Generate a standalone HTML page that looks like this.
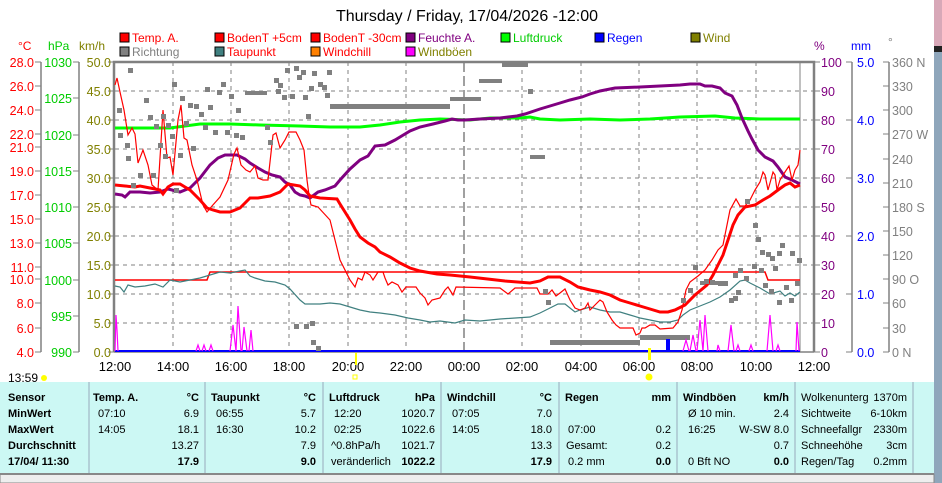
<!DOCTYPE html>
<html><head><meta charset="utf-8"><style>
body{margin:0;width:942px;height:483px;overflow:hidden;background:#fff;font-family:"Liberation Sans Narrow","Liberation Sans",sans-serif;}
svg{position:absolute;left:0;top:0}
</style></head><body>
<svg width="942" height="483" viewBox="0 0 942 483" font-family="Liberation Sans Narrow, Liberation Sans, sans-serif">
<rect x="934" y="0" width="8" height="46" fill="#d8a8b8"/>
<rect x="934" y="46" width="8" height="6" fill="#222"/>
<rect x="934" y="52" width="8" height="431" fill="#8fa6bb"/>
<text x="467" y="21" font-size="16" text-anchor="middle" fill="#000">Thursday / Friday, 17/04/2026  -12:00</text>
<!-- legend -->
<g font-size="12">
<rect x="120" y="33" width="9" height="9" fill="#f00" stroke="#000"/><text x="132" y="42" fill="#f00">Temp. A.</text>
<rect x="215" y="33" width="9" height="9" fill="#f00" stroke="#000"/><text x="227" y="42" fill="#f00">BodenT +5cm</text>
<rect x="311" y="33" width="9" height="9" fill="#f00" stroke="#000"/><text x="323" y="42" fill="#f00">BodenT -30cm</text>
<rect x="406" y="33" width="9" height="9" fill="#800080" stroke="#000"/><text x="418" y="42" fill="#800080">Feuchte A.</text>
<rect x="501" y="33" width="9" height="9" fill="#0f0" stroke="#000"/><text x="513" y="42" fill="#0c0">Luftdruck</text>
<rect x="595" y="33" width="9" height="9" fill="#00f" stroke="#000"/><text x="607" y="42" fill="#00f">Regen</text>
<rect x="691" y="33" width="9" height="9" fill="#808000" stroke="#000"/><text x="703" y="42" fill="#808000">Wind</text>
<rect x="120" y="47" width="9" height="9" fill="#808080" stroke="#000"/><text x="132" y="56" fill="#808080">Richtung</text>
<rect x="215" y="47" width="9" height="9" fill="#408080" stroke="#000"/><text x="227" y="56" fill="#f00">Taupunkt</text>
<rect x="311" y="47" width="9" height="9" fill="#ff8000" stroke="#000"/><text x="323" y="56" fill="#f00">Windchill</text>
<rect x="406" y="47" width="9" height="9" fill="#f0f" stroke="#000"/><text x="418" y="56" fill="#808000">Windböen</text>
<text x="18" y="50" fill="#f00">°C</text><text x="48" y="50" fill="#0c0">hPa</text><text x="79" y="50" fill="#808000">km/h</text>
<text x="814" y="50" fill="#800080">%</text><text x="851" y="50" fill="#00f">mm</text><text x="888" y="46" fill="#808080">°</text>
</g>
<!-- left axes -->
<g stroke="#808080" stroke-width="1.5"><line x1="41" y1="62" x2="41" y2="352"/><line x1="79" y1="62" x2="79" y2="352"/><line x1="852" y1="62" x2="852" y2="352"/><line x1="889" y1="62" x2="889" y2="352"/></g>
<g font-size="12.5" fill="#f00" text-anchor="end">
<text x="34" y="67">28.0</text><text x="34" y="91">26.0</text><text x="34" y="115">24.0</text><text x="34" y="139">22.0</text><text x="34" y="152">21.0</text><text x="34" y="176">19.0</text><text x="34" y="200">17.0</text><text x="34" y="224">15.0</text><text x="34" y="248">13.0</text><text x="34" y="272">11.0</text><text x="34" y="284">10.0</text><text x="34" y="308">8.0</text><text x="34" y="333">6.0</text><text x="34" y="357">4.0</text>
</g>
<g stroke="#808080"><path d="M35 62h6M35 86h6M35 110h6M35 134h6M35 147h6M35 171h6M35 195h6M35 219h6M35 243h6M35 267h6M35 279h6M35 303h6M35 328h6M35 352h6"/>
<path d="M73 62h6M73 98h6M73 135h6M73 171h6M73 207h6M73 243h6M73 280h6M73 316h6M73 352h6"/>
<path d="M108 62h6M108 91h6M108 120h6M108 149h6M108 178h6M108 207h6M108 236h6M108 265h6M108 294h6M108 323h6M108 352h6"/>
<path d="M814 62h6M814 91h6M814 120h6M814 149h6M814 178h6M814 207h6M814 236h6M814 265h6M814 294h6M814 323h6M814 352h6"/>
<path d="M846 62h6M846 120h6M846 178h6M846 236h6M846 294h6M846 352h6"/>
<path d="M883 62h6M883 86h6M883 110h6M883 134h6M883 159h6M883 183h6M883 207h6M883 231h6M883 255h6M883 279h6M883 303h6M883 328h6M883 352h6"/></g>
<g font-size="12.5" fill="#0c0" text-anchor="end">
<text x="72" y="67">1030</text><text x="72" y="103">1025</text><text x="72" y="140">1020</text><text x="72" y="176">1015</text><text x="72" y="212">1010</text><text x="72" y="248">1005</text><text x="72" y="285">1000</text><text x="72" y="321">995</text><text x="72" y="357">990</text></g>
<g font-size="12.5" fill="#808000" text-anchor="end">
<text x="111" y="67">50.0</text><text x="111" y="96">45.0</text><text x="111" y="125">40.0</text><text x="111" y="154">35.0</text><text x="111" y="183">30.0</text><text x="111" y="212">25.0</text><text x="111" y="241">20.0</text><text x="111" y="270">15.0</text><text x="111" y="299">10.0</text><text x="111" y="328">5.0</text><text x="111" y="357">0.0</text></g>
<g font-size="12.5" fill="#800080">
<text x="821" y="67">100</text><text x="821" y="96">90</text><text x="821" y="125">80</text><text x="821" y="154">70</text><text x="821" y="183">60</text><text x="821" y="212">50</text><text x="821" y="241">40</text><text x="821" y="270">30</text><text x="821" y="299">20</text><text x="821" y="328">10</text><text x="821" y="357">0</text></g>
<g font-size="12.5" fill="#00f">
<text x="857" y="67">5.0</text><text x="857" y="125">4.0</text><text x="857" y="183">3.0</text><text x="857" y="241">2.0</text><text x="857" y="299">1.0</text><text x="857" y="357">0.0</text></g>
<g font-size="12.5" fill="#808080">
<text x="892" y="67">360 N</text><text x="892" y="91">330</text><text x="892" y="115">300</text><text x="892" y="139">270 W</text><text x="892" y="164">240</text><text x="892" y="188">210</text><text x="892" y="212">180 S</text><text x="892" y="236">150</text><text x="892" y="260">120</text><text x="892" y="284">90  O</text><text x="892" y="308">60</text><text x="892" y="333">30</text><text x="892" y="357">0    N</text></g>
<!-- grid -->
<g stroke="#808080" stroke-dasharray="4,4" stroke-width="1">
<path d="M115 91H814M115 120H814M115 149H814M115 178H814M115 207H814M115 236H814M115 265H814M115 294H814M115 323H814"/>
<path d="M173 62V352M231 62V352M289 62V352M348 62V352M406 62V352M522 62V352M581 62V352M639 62V352M697 62V352M756 62V352"/>
</g>
<path d="M464 62V352" stroke="#808080" stroke-dasharray="10,4" stroke-width="1.5"/>
<line x1="800" y1="62" x2="800" y2="352" stroke="#808080"/>
<!-- frame -->
<path d="M114 352V62H814V352" fill="none" stroke="#808080" stroke-width="2.5"/>
<line x1="114" y1="352" x2="814" y2="352" stroke="#808080" stroke-width="1.5"/>
<!-- Richtung -->
<g fill="#808080">
<rect x="330" y="104" width="120" height="5"/><rect x="450" y="97" width="31" height="4"/><rect x="479" y="79" width="23" height="4"/><rect x="502" y="63" width="26" height="4"/><rect x="530" y="155" width="15" height="4"/><rect x="550" y="340" width="90" height="5"/><rect x="640" y="335" width="50" height="5"/><rect x="245" y="91" width="22" height="4"/><rect x="700" y="281" width="22" height="4"/>
</g>
<g fill="#808080" id="dots"></g>
<!-- Luftdruck -->
<polyline fill="none" stroke="#0f0" stroke-width="3" points="115,128 170,128 185,126 200,124 230,124 260,125 300,126 330,127 360,127 380,125 400,122 420,120 440,119 470,120 490,118 520,118 530,117 540,119 560,120 590,119 620,120 650,119 680,117 715,116 735,118 760,119 800,119"/>
<!-- Feuchte -->
<polyline fill="none" stroke="#800080" stroke-width="3" points="115,194 122,195 125,197 130,192 140,192 150,193 160,192 168,189 180,192 190,188 195,183 200,178 210,165 218,158 225,155 237,155 245,159 250,163 258,168 265,172 272,175 280,177 285,182 290,185 295,192 300,195 305,196 310,198 318,192 325,190 335,186 340,180 350,169 360,160 368,156 375,146 385,145 395,140 400,137 410,131 420,127 433,124 445,121 452,119 458,120 465,120 480,119 500,118 517,116 525,114 540,109 550,106 560,103 570,100 582,97 590,94 600,91 615,88 640,87 660,86 680,85 690,84 700,84 705,86 712,86 720,88 725,93 732,96 737,105 742,118 748,131 752,139 758,150 765,157 773,161 778,167 785,177 792,180 800,184"/>
<!-- BodenT -30 -->
<polyline fill="none" stroke="#f00" stroke-width="1.5" points="115,280 207,280 210,272 357,272 360,272 765,272 768,280 800,280"/>
<!-- Taupunkt -->
<polyline fill="none" stroke="#408080" stroke-width="1.2" points="115,286 120,287 124,292 128,285 135,287 145,286 155,284 163,287 170,280 180,282 190,280 200,278 210,275 220,272 230,273 240,271 245,270 250,276 255,278 265,281 275,282 285,285 290,289 300,300 305,304 310,304 320,304 330,303 340,304 350,307 360,310 370,312 380,313 395,315 408,318 420,320 430,322 440,321 455,323 465,320 480,321 500,319 530,317 540,313 550,308 558,304 565,304 570,308 575,312 580,310 590,307 600,310 610,312 620,312 630,315 640,318 650,320 660,322 670,322 678,320 683,315 690,310 700,306 710,302 720,297 730,290 740,281 745,280 750,283 760,288 770,294 780,291 785,296 790,293 795,296 800,292"/>
<!-- BodenT +5 thick -->
<polyline fill="none" stroke="#f00" stroke-width="3" points="115,185 125,186 135,187 140,186 150,188 160,190 163,194 168,187 173,184 180,184 185,187 190,190 200,200 207,208 213,210 220,212 230,212 240,208 245,203 250,198 258,198 270,196 280,192 288,184 300,186 305,190 310,196 320,198 337,199 340,204 345,212 350,220 355,229 360,237 368,243 375,247 380,252 390,257 400,263 410,268 420,271 437,274 450,275 470,277 505,281 530,283 540,281 548,277 560,277 570,282 578,287 590,290 600,292 610,295 620,300 630,303 640,306 650,309 660,312 668,312 675,310 685,305 695,295 707,285 713,275 718,265 723,255 728,240 733,225 738,215 745,207 755,205 763,200 770,196 778,190 785,185 790,183 795,187 800,185"/>
<!-- Temp A thin -->
<polyline fill="none" stroke="#f00" stroke-width="1.2" points="115,85 117,78 120,92 124,110 128,135 132,128 135,134 138,163 143,150 148,165 152,185 158,190 163,110 167,158 170,157 173,175 178,120 181,105 184,138 187,140 192,165 197,180 203,205 207,212 212,206 220,197 228,180 234,154 237,148 241,165 246,170 250,172 255,166 258,178 263,180 268,180 273,135 276,133 280,148 285,140 289,132 296,132 300,140 304,150 307,180 309,195 311,205 318,207 330,220 335,240 340,260 345,270 350,280 355,287 358,278 362,280 365,272 370,275 373,280 378,272 383,272 385,278 388,285 392,282 398,285 402,292 406,287 416,287 420,293 425,298 428,305 432,300 440,298 445,290 448,287 453,295 456,287 500,288 508,294 515,288 537,288 540,294 548,294 552,290 556,296 560,293 565,289 570,300 575,308 580,310 585,308 588,303 590,310 595,305 600,300 603,302 607,312 612,320 616,325 620,328 633,328 636,335 640,333 642,328 645,328 650,325 655,325 660,329 673,328 678,322 682,310 686,290 690,282 698,276 705,270 712,260 718,250 723,245 730,210 736,199 740,206 745,206 750,200 755,190 760,182 763,172 765,175 768,190 770,183 773,172 775,175 777,190 780,180 785,172 789,166 792,180 795,170 798,165 800,150"/>
<!-- rain -->
<line x1="115" y1="351" x2="800" y2="351" stroke="#00f" stroke-width="2"/>
<rect x="666" y="339" width="4" height="12" fill="#00f"/>
<!-- gusts -->
<g fill="none" stroke="#f0f" stroke-width="1.2">
<path d="M115 351L116 315L117 330L118 351"/>
<path d="M196 351L198 345L200 351M202 351L204 345L206 351M209 351L211 345L213 351"/>
<path d="M230 351L233 325L236 351M236 351L238 306L241 351M242 351L244 327L247 351M249 351L251 330L253 351"/>
<path d="M683 351L686 340L689 351M690 351L693 335L696 351M697 351L700 320L703 351M703 351L705 315L708 351M717 351L718 345L720 351M728 351L731 325L734 351M736 351L738 345L740 351M749 351L751 345L753 351M767 351L770 315L773 351M776 351L778 345L780 351M796 351L797 322L799 351"/>
</g>
<!-- time labels -->
<g font-size="13" fill="#000" text-anchor="middle">
<text x="115" y="371">12:00</text><text x="173" y="371">14:00</text><text x="231" y="371">16:00</text><text x="289" y="371">18:00</text><text x="348" y="371">20:00</text><text x="406" y="371">22:00</text><text x="464" y="371">00:00</text><text x="522" y="371">02:00</text><text x="581" y="371">04:00</text><text x="639" y="371">06:00</text><text x="697" y="371">08:00</text><text x="756" y="371">10:00</text><text x="814" y="371">12:00</text>
</g>
<text x="8" y="382" font-size="12">13:59</text>
<circle cx="44" cy="378" r="3" fill="#ff0"/>
<rect x="355" y="353" width="2" height="12" fill="#ff0"/>
<rect x="353" y="375" width="4" height="4" fill="none" stroke="#ff0"/>
<rect x="648" y="348" width="3" height="12" fill="#ff0"/>
<circle cx="649" cy="377" r="3.5" fill="#ff0"/>
<!-- table -->
<rect x="0" y="382" width="934" height="92" fill="#ccf8f4"/>
<g stroke="#9ab" stroke-width="1"><path d="M89 382V474M205 382V474M323 382V474M441 382V474M559 382V474M677 382V474M795 382V474M913 382V474"/></g>
<rect x="0" y="474" width="934" height="9" fill="#eee" stroke="#888"/>
<path d="M0 474H934" stroke="#888" stroke-width="2"/>
<g font-size="11" fill="#000">
<g font-weight="bold"><text x="8" y="401">Sensor</text><text x="8" y="417">MinWert</text><text x="8" y="433">MaxWert</text><text x="8" y="449">Durchschnitt</text><text x="8" y="465">17/04/ 11:30</text>
<text x="93" y="401">Temp. A.</text><text x="211" y="401">Taupunkt</text><text x="329" y="401">Luftdruck</text><text x="447" y="401">Windchill</text><text x="565" y="401">Regen</text><text x="683" y="401">Windböen</text></g>
<g text-anchor="end" font-weight="bold"><text x="199" y="401">°C</text><text x="316" y="401">°C</text><text x="435" y="401">hPa</text><text x="552" y="401">°C</text><text x="671" y="401">mm</text><text x="789" y="401">km/h</text>
<text x="199" y="465">17.9</text><text x="316" y="465">9.0</text><text x="435" y="465">1022.2</text><text x="552" y="465">17.9</text><text x="671" y="465">0.0</text><text x="789" y="465">0.0</text></g>
<text x="98" y="417">07:10</text><text x="98" y="433">14:05</text>
<text x="216" y="417">06:55</text><text x="216" y="433">16:30</text>
<text x="334" y="417">12:20</text><text x="334" y="433">02:25</text><text x="331" y="449">^0.8hPa/h</text><text x="331" y="465">veränderlich</text>
<text x="452" y="417">07:05</text><text x="452" y="433">14:05</text>
<text x="568" y="433">07:00</text><text x="566" y="449">Gesamt:</text><text x="568" y="465">0.2 mm</text>
<text x="688" y="417">Ø 10 min.</text><text x="688" y="433">16:25</text><text x="688" y="465">0 Bft NO</text>
<g text-anchor="end"><text x="199" y="417">6.9</text><text x="199" y="433">18.1</text><text x="199" y="449">13.27</text>
<text x="316" y="417">5.7</text><text x="316" y="433">10.2</text><text x="316" y="449">7.9</text>
<text x="435" y="417">1020.7</text><text x="435" y="433">1022.6</text><text x="435" y="449">1021.7</text>
<text x="552" y="417">7.0</text><text x="552" y="433">18.0</text><text x="552" y="449">13.3</text>
<text x="671" y="433">0.2</text><text x="671" y="449">0.2</text>
<text x="789" y="417">2.4</text><text x="789" y="433">W-SW 8.0</text><text x="789" y="449">0.7</text>
<text x="907" y="401">1370m</text><text x="907" y="417">6-10km</text><text x="907" y="433">2330m</text><text x="907" y="449">3cm</text><text x="907" y="465">0.2mm</text></g>
<text x="801" y="401">Wolkenunterg</text><text x="801" y="417">Sichtweite</text><text x="801" y="433">Schneefallgr</text><text x="801" y="449">Schneehöhe</text><text x="801" y="465">Regen/Tag</text>
</g>
</svg>
<svg width="942" height="483" style="position:absolute;left:0;top:0"><g fill="#808080">
<rect x="117" y="108" width="5" height="5"/><rect x="118" y="133" width="5" height="5"/><rect x="125" y="143" width="5" height="5"/><rect x="128" y="68" width="5" height="5"/><rect x="126" y="156" width="5" height="5"/><rect x="131" y="183" width="5" height="5"/><rect x="138" y="173" width="5" height="5"/><rect x="144" y="98" width="5" height="5"/><rect x="148" y="115" width="5" height="5"/><rect x="151" y="173" width="5" height="5"/><rect x="154" y="124" width="5" height="5"/><rect x="158" y="143" width="5" height="5"/><rect x="161" y="114" width="5" height="5"/><rect x="163" y="154" width="5" height="5"/><rect x="166" y="123" width="5" height="5"/><rect x="170" y="134" width="5" height="5"/><rect x="172" y="82" width="5" height="5"/><rect x="174" y="188" width="5" height="5"/><rect x="178" y="153" width="5" height="5"/><rect x="180" y="96" width="5" height="5"/><rect x="184" y="121" width="5" height="5"/><rect x="188" y="103" width="5" height="5"/><rect x="191" y="146" width="5" height="5"/><rect x="194" y="104" width="5" height="5"/><rect x="199" y="112" width="5" height="5"/><rect x="203" y="125" width="5" height="5"/><rect x="205" y="87" width="5" height="5"/><rect x="208" y="105" width="5" height="5"/><rect x="213" y="130" width="5" height="5"/><rect x="217" y="90" width="5" height="5"/><rect x="221" y="82" width="5" height="5"/><rect x="225" y="130" width="5" height="5"/><rect x="229" y="94" width="5" height="5"/><rect x="234" y="133" width="5" height="5"/><rect x="236" y="108" width="5" height="5"/><rect x="240" y="135" width="5" height="5"/><rect x="265" y="125" width="5" height="5"/><rect x="268" y="140" width="5" height="5"/><rect x="274" y="78" width="5" height="5"/><rect x="276" y="89" width="5" height="5"/><rect x="278" y="83" width="5" height="5"/><rect x="282" y="95" width="5" height="5"/><rect x="285" y="68" width="5" height="5"/><rect x="290" y="94" width="5" height="5"/><rect x="294" y="66" width="5" height="5"/><rect x="297" y="75" width="5" height="5"/><rect x="301" y="70" width="5" height="5"/><rect x="303" y="95" width="5" height="5"/><rect x="306" y="114" width="5" height="5"/><rect x="309" y="86" width="5" height="5"/><rect x="312" y="71" width="5" height="5"/><rect x="318" y="82" width="5" height="5"/><rect x="322" y="85" width="5" height="5"/><rect x="325" y="93" width="5" height="5"/><rect x="327" y="70" width="5" height="5"/><rect x="294" y="324" width="5" height="5"/><rect x="304" y="324" width="5" height="5"/><rect x="310" y="321" width="5" height="5"/><rect x="311" y="340" width="5" height="5"/><rect x="316" y="346" width="5" height="5"/><rect x="528" y="89" width="5" height="5"/><rect x="543" y="289" width="5" height="5"/><rect x="546" y="300" width="5" height="5"/><rect x="693" y="265" width="5" height="5"/><rect x="704" y="279" width="5" height="5"/><rect x="710" y="280" width="5" height="5"/><rect x="745" y="199" width="5" height="5"/><rect x="753" y="223" width="5" height="5"/><rect x="756" y="237" width="5" height="5"/><rect x="760" y="250" width="5" height="5"/><rect x="766" y="252" width="5" height="5"/><rect x="770" y="256" width="5" height="5"/><rect x="773" y="266" width="5" height="5"/><rect x="777" y="251" width="5" height="5"/><rect x="780" y="243" width="5" height="5"/><rect x="790" y="251" width="5" height="5"/><rect x="797" y="258" width="5" height="5"/><rect x="733" y="273" width="5" height="5"/><rect x="738" y="268" width="5" height="5"/><rect x="744" y="276" width="5" height="5"/><rect x="752" y="264" width="5" height="5"/><rect x="759" y="268" width="5" height="5"/><rect x="763" y="283" width="5" height="5"/><rect x="769" y="289" width="5" height="5"/><rect x="777" y="300" width="5" height="5"/><rect x="784" y="285" width="5" height="5"/><rect x="789" y="298" width="5" height="5"/><rect x="795" y="281" width="5" height="5"/><rect x="733" y="296" width="5" height="5"/><rect x="736" y="290" width="5" height="5"/><rect x="729" y="298" width="5" height="5"/><rect x="723" y="281" width="5" height="5"/><rect x="718" y="281" width="5" height="5"/><rect x="688" y="288" width="5" height="5"/><rect x="681" y="298" width="5" height="5"/>
</g></svg>
</body></html>
